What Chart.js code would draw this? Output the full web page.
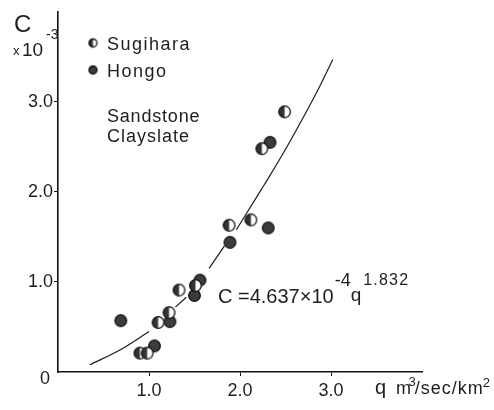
<!DOCTYPE html>
<html>
<head>
<meta charset="utf-8">
<script src="https://cdn.jsdelivr.net/npm/chart.js@4.4.1/dist/chart.umd.min.js"></script>
<style>
  body { margin: 0; background: #fff; }
  #wrap { width: 494px; height: 410px; }
</style>
</head>
<body>
<div id="wrap"><canvas id="sedChart"></canvas></div>
<script>
// values (C in units of 1e-3, q in m3/sec/km2)
const qSugihara = [0.90, 0.98, 1.10, 1.22, 1.33, 1.51, 1.88, 2.12, 2.24, 2.49];
const cSugihara = [0.21, 0.21, 0.55, 0.66, 0.91, 0.96, 1.63, 1.69, 2.48, 2.89];
const qHongo = [0.69, 1.06, 1.23, 1.50, 1.56, 1.89, 2.31, 2.33];
const cHongo = [0.57, 0.29, 0.56, 0.85, 1.02, 1.44, 1.60, 2.55];
// fitted curve, null = break in the drawn line
const qCurve = [0.35, 0.69, 1.00, 1.15, 1.29, 1.41, 1.53, 1.66, 1.83, 1.90, 1.96, 2.23, 2.31, 2.56, 2.84, 3.02];
const cCurve = [0.08, 0.25, 0.45, null, 0.72, 0.83, null, 1.15, 1.40, null, 1.58, 2.02, 2.15, 2.58, 3.10, 3.47];
const xTicks = [1, 2, 3];
const yTicks = [1, 2, 3];

const FONT = 'Liberation Sans, Arial, sans-serif';
const INK = '#1e1e1e';

function makeMarker(r, half) {
  const c = document.createElement('canvas');
  const s = Math.ceil(r * 2 + 3);
  c.width = s; c.height = s;
  const g = c.getContext('2d');
  const m = s / 2;
  g.beginPath(); g.arc(m, m, r, 0, Math.PI * 2);
  g.fillStyle = half ? '#fff' : '#3c3c3c';
  g.fill();
  if (half) {
    g.beginPath();
    g.arc(m, m, r, Math.PI / 2, Math.PI * 1.5);
    g.closePath();
    g.fillStyle = '#333';
    g.fill();
  }
  g.beginPath(); g.arc(m, m, r, 0, Math.PI * 2);
  g.lineWidth = 1.3; g.strokeStyle = '#111';
  g.stroke();
  return c;
}
const sugiMark = makeMarker(5.8, true);
const hongoMark = makeMarker(5.8, false);
const sugiSmall = makeMarker(4, true);
const hongoSmall = makeMarker(4, false);

function pairs(xs, ys) {
  return xs.map((x, i) => ({ x: x, y: ys[i] }));
}

function txt(ctx, s, x, y, size, spacing) {
  ctx.font = size + 'px ' + FONT;
  ctx.letterSpacing = (spacing || 0) + 'px';
  ctx.fillText(s, x, y);
  const w = ctx.measureText(s).width;
  return x + w;
}

const notes = {
  id: 'notes',
  afterDraw(chart) {
    const ctx = chart.ctx;
    const xs = chart.scales.x, ys = chart.scales.y;
    ctx.save();
    ctx.fillStyle = INK;
    ctx.textBaseline = 'alphabetic';
    ctx.textAlign = 'left';
    // axis titles
    txt(ctx, 'C', 14, 32, 24, 0);
    txt(ctx, 'x', 13, 55, 13, 0);
    txt(ctx, '10', 22, 56, 19, 0);
    txt(ctx, '-3', 46, 39, 14, 0);
    let x = txt(ctx, 'q', 375, 394, 20, 0) + 10;
    x = txt(ctx, 'm', x, 394, 18, 0.5);
    x = txt(ctx, '3', x - 3, 386, 13, 0);
    x = txt(ctx, '/sec/km', x - 1, 394, 18, 1);
    txt(ctx, '2', x - 1, 387, 13, 0);
    // origin label
    ctx.textAlign = 'right';
    txt(ctx, '0', xs.left - 8, ys.getPixelForValue(0) + 12, 18, 0);
    ctx.textAlign = 'left';
    // legend
    ctx.drawImage(sugiSmall, 93 - sugiSmall.width / 2, 43 - sugiSmall.height / 2);
    ctx.drawImage(hongoSmall, 93 - hongoSmall.width / 2, 70 - hongoSmall.height / 2);
    txt(ctx, 'Sugihara', 107, 50, 18, 1.5);
    txt(ctx, 'Hongo', 107, 77, 18, 1.5);
    txt(ctx, 'Sandstone', 107, 122, 18, 0.8);
    txt(ctx, 'Clayslate', 107, 142, 18, 1.0);
    // equation
    x = txt(ctx, 'C =4.637\u00d710', 218, 303, 20, 0);
    x = txt(ctx, '-4', x + 1, 286, 18, 0);
    x = txt(ctx, 'q', x, 301, 19, 0);
    txt(ctx, '1.832', x + 2, 285, 16, 1.2);
    ctx.restore();
  }
};

const ctx = document.getElementById('sedChart').getContext('2d');
const chart = new Chart(ctx, {
  type: 'scatter',
  data: {
    datasets: [
      {
        label: 'fit',
        data: pairs(qCurve, cCurve),
        showLine: true,
        spanGaps: false,
        borderColor: INK,
        borderWidth: 1.2,
        pointRadius: 0,
        cubicInterpolationMode: 'monotone'
      },
      {
        label: 'Sugihara',
        data: pairs(qSugihara, cSugihara),
        pointStyle: sugiMark
      },
      {
        label: 'Hongo',
        data: pairs(qHongo, cHongo),
        pointStyle: hongoMark
      }
    ]
  },
  options: {
    responsive: true,
    maintainAspectRatio: false,
    animation: false,
    layout: { padding: { left: 0, right: 72, top: 10, bottom: 0 } },
    plugins: {
      legend: { display: false },
      tooltip: { enabled: false }
    },
    scales: {
      x: {
        type: 'linear',
        min: 0, max: 4,
        afterBuildTicks: s => { s.ticks = xTicks.map(v => ({ value: v })); },
        afterFit: s => { s.height = 38; },
        border: { color: '#111', width: 1.6 },
        grid: { drawOnChartArea: false, color: '#111', tickLength: 4 },
        ticks: {
          color: INK,
          padding: 4,
          font: { family: FONT, size: 18 },
          callback: v => v.toFixed(1)
        }
      },
      y: {
        type: 'linear',
        min: 0, max: 4,
        afterBuildTicks: s => { s.ticks = yTicks.map(v => ({ value: v })); },
        afterFit: s => { s.width = 58; },
        border: { color: '#111', width: 1.6 },
        grid: { drawOnChartArea: false, color: '#111', tickLength: 4 },
        ticks: {
          color: INK,
          padding: 1,
          font: { family: FONT, size: 18 },
          callback: v => v.toFixed(1)
        }
      }
    }
  },
  plugins: [notes]
});
</script>
</body>
</html>
